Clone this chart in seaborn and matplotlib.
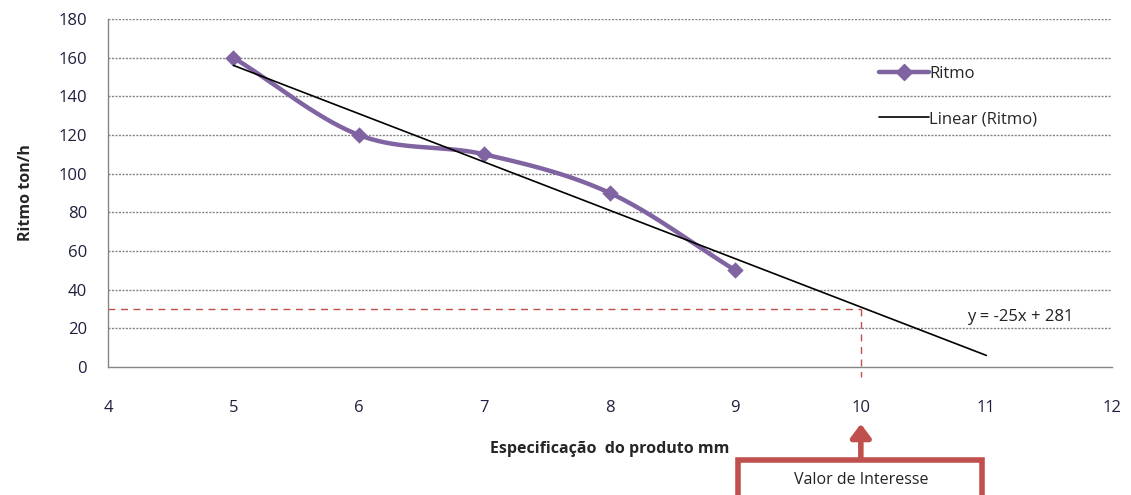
import numpy as np
import pandas as pd
import matplotlib
matplotlib.use("Agg")
import matplotlib.pyplot as plt
from matplotlib.lines import Line2D
from matplotlib.patches import FancyArrowPatch, Rectangle
import seaborn as sns

# Data
espec_mm = [5, 6, 7, 8, 9]
ritmo = [160, 120, 110, 90, 50]
x_ticks = [4, 5, 6, 7, 8, 9, 10, 11, 12]
y_ticks = [0, 20, 40, 60, 80, 100, 120, 140, 160, 180]
valor_interesse_x = 10
ritmo_interesse = 30
trend_range = [5, 11]

sns.set_theme(style="white")
plt.rcParams["font.family"] = ["Open Sans", "DejaVu Sans"]

purple = "#8064A2"
red = "#C0504D"
grid_gray = "#858585"


def smooth_curve(xs, ys, n=40):
    """Catmull-Rom spline through the points (spreadsheet-style smoothed line)."""
    xs = np.asarray(xs, float)
    ys = np.asarray(ys, float)
    px = np.concatenate([[2 * xs[0] - xs[1]], xs, [2 * xs[-1] - xs[-2]]])
    py = np.concatenate([[2 * ys[0] - ys[1]], ys, [2 * ys[-1] - ys[-2]]])
    out_x, out_y = [], []
    t = np.linspace(0, 1, n)
    for i in range(1, len(px) - 2):
        p0, p1, p2, p3 = (np.array([px[j], py[j]]) for j in range(i - 1, i + 3))
        seg = 0.5 * ((2 * p1)[:, None] + (-p0 + p2)[:, None] * t
                     + (2 * p0 - 5 * p1 + 4 * p2 - p3)[:, None] * t ** 2
                     + (-p0 + 3 * p1 - 3 * p2 + p3)[:, None] * t ** 3)
        out_x.extend(seg[0])
        out_y.extend(seg[1])
    return np.array(out_x), np.array(out_y)


# Least-squares trend line
slope, intercept = np.polyfit(espec_mm, ritmo, 1)
trend_x = np.array(trend_range, float)
trend_df = pd.DataFrame({"x": trend_x, "y": slope * trend_x + intercept})

sx, sy = smooth_curve(espec_mm, ritmo)
curve_df = pd.DataFrame({"x": sx, "y": sy})
points_df = pd.DataFrame({"x": espec_mm, "y": ritmo})

fig = plt.figure(figsize=(11.31, 4.95), dpi=100)
ax = fig.add_axes([0.0955, 0.2586, 0.8875, 0.703])

ax.set_xlim(x_ticks[0], x_ticks[-1])
ax.set_ylim(y_ticks[0], y_ticks[-1])
ax.set_xticks(x_ticks)
ax.set_yticks(y_ticks)

# Grid
for yv in y_ticks[1:]:
    ax.axhline(yv, color=grid_gray, lw=1.0, ls=(0, (1.5, 1)), zorder=0)

# Reference lines for the value of interest
ax.plot([x_ticks[0], valor_interesse_x], [ritmo_interesse, ritmo_interesse],
        color=red, lw=1.0, ls=(0, (5, 4)), zorder=1)
ax.plot([valor_interesse_x, valor_interesse_x], [ritmo_interesse, -5],
        color=red, lw=1.0, ls=(0, (5, 4)), zorder=1, clip_on=False)

sns.lineplot(data=curve_df, x="x", y="y", ax=ax, color=purple, lw=3.2,
             sort=False, estimator=None, zorder=3)
sns.scatterplot(data=points_df, x="x", y="y", ax=ax, color=purple, marker="D",
                s=70, edgecolor=purple, linewidth=0, zorder=4)
sns.lineplot(data=trend_df, x="x", y="y", ax=ax, color="black", lw=1.2,
             estimator=None, zorder=5)

sign = "-" if slope < 0 else ""
ax.text(10.85, 26, f"y = {sign}{abs(slope):.0f}x + {intercept:.0f}", fontsize=12,
        color="#222222", va="center", ha="left")

# Spines and ticks
for s in ["top", "right"]:
    ax.spines[s].set_visible(False)
for s in ["left", "bottom"]:
    ax.spines[s].set_color(grid_gray)
    ax.spines[s].set_linewidth(1.0)
    ax.spines[s].set_linestyle((0, (1.5, 1)))
ax.tick_params(axis="both", direction="out", length=6, width=1.0, color=grid_gray,
               labelsize=12, labelcolor="#1F1F3F")
ax.tick_params(axis="y", pad=9)
ax.tick_params(axis="x", pad=18)

ax.set_xlabel("Especificação  do produto mm", fontsize=11.5, fontweight="bold", labelpad=18)
ax.set_ylabel("Ritmo ton/h", fontsize=11.5, fontweight="bold", labelpad=18)

# Legend
handles = [
    Line2D([0], [0], color=purple, lw=3.2, marker="D", markersize=8),
    Line2D([0], [0], color="black", lw=1.2),
]
ax.legend(handles, ["Ritmo", "Linear (Ritmo)"], loc="upper left",
          bbox_to_anchor=(0.761, 0.884), frameon=False, fontsize=12,
          handlelength=3.0, handletextpad=0.05, labelspacing=1.75, borderaxespad=0)

# Callout below the axis
xf = ax.transData.transform((valor_interesse_x, 0))[0]
xf_fig = fig.transFigure.inverted().transform((xf, 0))[0]
arrow = FancyArrowPatch((xf_fig, 1 - 460 / 495), (xf_fig, 1 - 421 / 495),
                        transform=fig.transFigure, arrowstyle="-|>,head_width=6,head_length=8",
                        color=red, lw=4, mutation_scale=1)
fig.patches.append(arrow)
box = Rectangle((738 / 1131, -0.05), (982 - 738) / 1131, (0.05 + 1 - 460 / 495),
                transform=fig.transFigure, facecolor="white", edgecolor=red, lw=4)
fig.patches.append(box)
fig.text(xf_fig, 1 - 480 / 495, "Valor de Interesse", ha="center", va="center",
         fontsize=11.5, color="#222222")

fig.savefig("out.png", dpi=100)
